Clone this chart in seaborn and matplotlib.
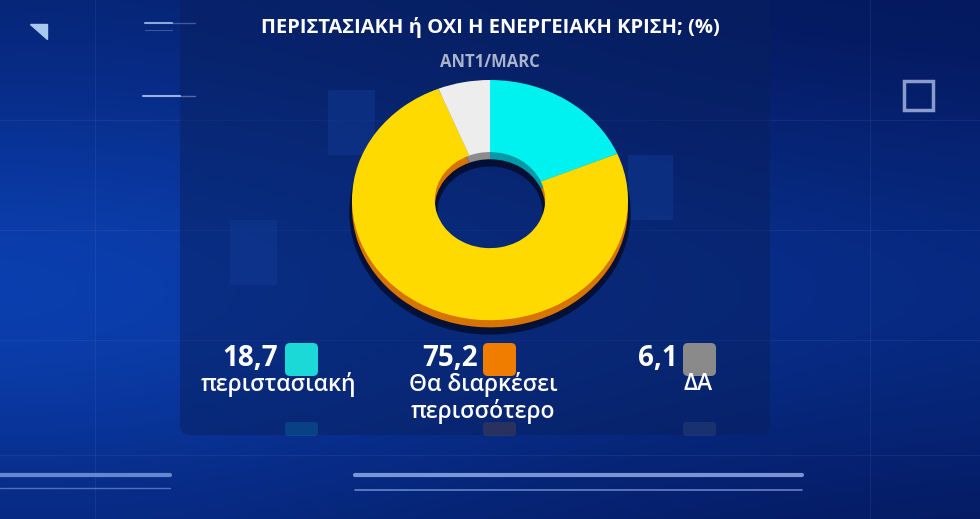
import numpy as np
import seaborn as sns
import matplotlib.pyplot as plt
from matplotlib.patches import FancyBboxPatch, Rectangle, Polygon

# data
title = 'ΠΕΡΙΣΤΑΣΙΑΚΗ ή ΟΧΙ Η ΕΝΕΡΓΕΙΑΚΗ ΚΡΙΣΗ; (%)'
source = 'ANT1/MARC'
categories = ['περιστασιακή', 'Θα διαρκέσει\nπερισσότερο', 'ΔΑ']
values = [18.7, 75.2, 6.1]
value_labels = ['18,7', '75,2', '6,1']

sns.set_theme(style='white')
plt.rcParams['font.family'] = ['Open Sans', 'DejaVu Sans']

slice_colors = sns.color_palette(['#00f2f0', '#ffda00', '#ededed'])
side_colors = sns.color_palette(['#009aa8', '#d87400', '#8c8c8c'])
key_colors = sns.color_palette(['#1ad9d6', '#f07c00', '#8a8a8a'])

W, H = 980, 519
fig = plt.figure(figsize=(W / 100, H / 100), dpi=100)

# background in pixel coordinates
bg = fig.add_axes([0, 0, 1, 1])
bg.set_xlim(0, W)
bg.set_ylim(H, 0)
bg.axis('off')

yy, xx = np.mgrid[0:H, 0:W]
t = 0.6 * np.exp(-((yy - 290) / 210) ** 2) * (1 - 0.35 * xx / W) + 0.25 * np.exp(-((xx - 60) / 500) ** 2)
dark = np.array([4, 22, 88]) / 255
bright = np.array([12, 70, 190]) / 255
img = dark + (bright - dark) * np.clip(t, 0, 1)[..., None]
bg.imshow(img, extent=(0, W, H, 0), aspect='auto', zorder=0)

# faint grid
for y in [120, 230, 340, 455]:
    bg.axhline(y, color='#6f90e0', lw=0.8, alpha=0.12, zorder=1)
for x in [95, 870]:
    bg.axvline(x, color='#6f90e0', lw=0.8, alpha=0.12, zorder=1)

# decorative blocks
for (x, y, w, h) in [(328, 90, 47, 65), (230, 220, 47, 65), (628, 155, 45, 65)]:
    bg.add_patch(Rectangle((x, y), w, h, color='#1c52c8', alpha=0.5, lw=0, zorder=1))

# panel
bg.add_patch(FancyBboxPatch((180, -20), 590, 455, boxstyle='round,pad=0,rounding_size=10',
                            facecolor='#08205e', edgecolor='none', alpha=0.5, zorder=2))

# decorations
bg.add_patch(Polygon([(30, 24), (47, 24), (47, 39)], color='#a8c8f0', zorder=3))
bg.plot([145, 172], [23, 23], color='#b0c8f0', lw=1.5, alpha=0.8, zorder=3)
bg.plot([172, 195], [23, 23], color='#b0c8f0', lw=1.0, alpha=0.35, zorder=3)
bg.plot([145, 172], [30, 30], color='#b0c8f0', lw=0.8, alpha=0.3, zorder=3)
bg.plot([143, 180], [96, 96], color='#c0d4f8', lw=1.5, alpha=0.8, zorder=3)
bg.plot([180, 195], [96, 96], color='#c0d4f8', lw=1.0, alpha=0.4, zorder=3)
bg.add_patch(Rectangle((904, 81), 29, 29, fill=False, edgecolor='#8a9ccc', lw=2.5, zorder=3))
bg.plot([0, 170], [475, 475], color='#7e9ee0', lw=3, alpha=0.8, zorder=3)
bg.plot([0, 170], [488, 488], color='#7e9ee0', lw=1, alpha=0.6, zorder=3)
bg.plot([355, 802], [475, 475], color='#8eaae6', lw=3, alpha=0.85, zorder=3)
bg.plot([355, 802], [490, 490], color='#8eaae6', lw=1.2, alpha=0.7, zorder=3)

# titles
fig.text(490 / W, 1 - 28 / H, title, ha='center', va='center', color='white',
         fontsize=14.5, fontweight='bold')
fig.text(490 / W, 1 - 62 / H, source, ha='center', va='center', color='#aab4cc',
         fontsize=12, fontweight='bold')

# donut
ax = fig.add_axes([352 / W, 1 - (77.6 + 257) / H, 276 / W, 257 / H])
ax.patch.set_alpha(0)
wp = dict(width=0.6, linewidth=0)
ax.pie(values, radius=1.02, center=(0, -0.1), colors=['#02061c'] * 3, startangle=90,
       counterclock=False, wedgeprops=dict(width=0.64, linewidth=0, alpha=0.7))
ax.pie(values, radius=1.0, center=(0, -0.06), colors=side_colors, startangle=90,
       counterclock=False, wedgeprops=wp)
ax.pie(values, radius=1.0, center=(0, 0), colors=slice_colors, startangle=90,
       counterclock=False, wedgeprops=wp)
ax.set_aspect('auto')
ax.set_xlim(-1, 1)
ax.set_ylim(-1.12, 1.02)
ax.axis('off')

# legend keys
num_right = [278, 478, 678]
key_left = [285, 483, 683]
label_x = [278, 483, 698]
for i in range(len(values)):
    fig.text(num_right[i] / W, 1 - 359 / H, value_labels[i], ha='right', va='center',
             color='white', fontsize=20, fontweight='bold')
    bg.add_patch(FancyBboxPatch((key_left[i], 343), 33, 33, boxstyle='round,pad=0,rounding_size=5',
                                facecolor=key_colors[i], edgecolor='none', zorder=4))
    bg.add_patch(FancyBboxPatch((key_left[i], 422), 33, 14, boxstyle='round,pad=0,rounding_size=3',
                                facecolor=key_colors[i], edgecolor='none', alpha=0.15, zorder=4))
    fig.text(label_x[i] / W, 1 - 372 / H, categories[i], ha='center', va='top',
             color='white', fontsize=16.5, fontweight='semibold', linespacing=1.1)

fig.savefig('out.png', dpi=100)
